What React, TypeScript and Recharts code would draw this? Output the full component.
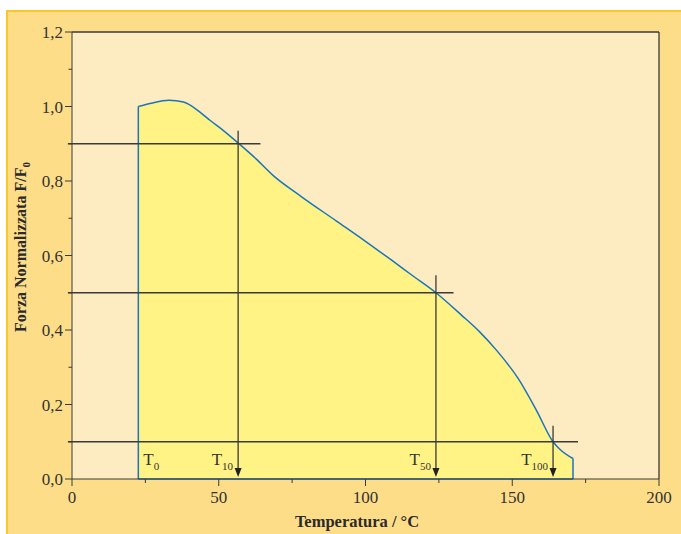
import React from 'react';
import {
  ComposedChart,
  Area,
  XAxis,
  YAxis,
  CartesianGrid,
  ReferenceLine,
  ReferenceDot
} from 'recharts';

// curve (temperature in °C, normalised force F/F0)
const temps = [
  22.6, 27, 33, 38, 43.6, 47, 51.5, 56.6, 62.9, 68.5, 78, 90, 100, 108.8,
  116.2, 124, 132.7, 138.9, 144.6, 152, 158.2, 163.9, 166.2, 170.7
];
const force = [
  1.0, 1.009, 1.017, 1.012, 0.985, 0.963, 0.936, 0.902, 0.858, 0.815, 0.759,
  0.693, 0.638, 0.588, 0.545, 0.5, 0.44, 0.395, 0.346, 0.27, 0.185, 0.1, 0.08,
  0.055
];

const xTicks = [0, 25, 50, 75, 100, 125, 150, 175, 200];
const yTicks = [0, 0.1, 0.2, 0.3, 0.4, 0.5, 0.6, 0.7, 0.8, 0.9, 1.0, 1.1, 1.2];

// T10 / T50 / T100 markers
const levels = [0.9, 0.5, 0.1];
const levelTemps = [56.6, 124, 163.9];
const levelLineEnds = [64.2, 130, 172.4];
const arrowTops = [0.935, 0.547, 0.143];
const markerNames = ['T', 'T', 'T', 'T'];
const markerSubs = ['0', '10', '50', '100'];
const markerTemps = [22.6, 56.6, 124, 163.9];

const data = temps.map((t, i) => ({ t, f: force[i] }));

const FONT = '"Liberation Serif", "Times New Roman", serif';
const INK = '#3a3a3a';
const BLUE = '#1b75bb';

const YTick = (props: any) => {
  const { x, y, payload } = props;
  const v = payload.value;
  const major = Math.round(v * 10) % 2 === 0;
  return (
    <g>
      <line x1={x - (major ? 7 : 3.5)} x2={x} y1={y} y2={y} stroke={INK} />
      {major && (
        <text x={x - 9} y={y} dy={6} textAnchor="end" fontSize={17} fontFamily={FONT} fill="#333">
          {v.toFixed(1).replace('.', ',')}
        </text>
      )}
    </g>
  );
};

const XTick = (props: any) => {
  const { x, y, payload } = props;
  const v = payload.value;
  const major = v % 50 === 0;
  return (
    <g>
      <line x1={x} x2={x} y1={y} y2={y + (major ? 7 : 4)} stroke={INK} />
      {major && (
        <text x={x} y={y + 24} textAnchor="middle" fontSize={17} fontFamily={FONT} fill="#333">
          {v}
        </text>
      )}
    </g>
  );
};

const Arrow = (props: any) => {
  const { x1, y1, x2, y2 } = props;
  return (
    <g>
      <line x1={x1} y1={y1} x2={x2} y2={y2 - 8} stroke={INK} strokeWidth={1.3} />
      <polygon points={`${x2},${y2 - 2} ${x2 - 3.5},${y2 - 11} ${x2 + 3.5},${y2 - 11}`} fill="#222" />
    </g>
  );
};

const makeMarker = (i: number) => (props: any) => {
  const { cx, cy } = props;
  const first = i === 0;
  return (
    <text
      x={first ? cx + 5 : cx - 5}
      y={cy - 14}
      textAnchor={first ? 'start' : 'end'}
      fontSize={17}
      fontFamily={FONT}
      fill="#333"
    >
      {markerNames[i]}
      <tspan dy={5} fontSize={11}>
        {markerSubs[i]}
      </tspan>
    </text>
  );
};

export default function App() {
  const last = temps.length - 1;
  return (
    <div style={{ position: 'absolute', left: 0, top: 0, width: 681, height: 534, background: '#fff', overflow: 'hidden' }}>
      <div
        style={{
          position: 'absolute',
          left: 6,
          top: 10,
          width: 675,
          height: 524,
          background: '#fedd88',
          borderTop: '2px solid #fcc52a',
          borderLeft: '2px solid #fcc52a',
          boxSizing: 'border-box'
        }}
      />
      <div style={{ position: 'absolute', left: 0, top: 0 }}>
        <ComposedChart
          width={681}
          height={534}
          data={data}
          margin={{ top: 32, right: 22, bottom: 25, left: 12 }}
        >
          <CartesianGrid horizontal={false} vertical={false} fill="#fdebc2" stroke="none" />
          <XAxis
            dataKey="t"
            type="number"
            domain={[0, 200]}
            ticks={xTicks}
            interval={0}
            height={30}
            tickSize={0}
            tickMargin={0}
            tick={<XTick />}
            stroke={INK}
            allowDataOverflow
          />
          <YAxis
            type="number"
            domain={[0, 1.2]}
            ticks={yTicks}
            interval={0}
            width={60}
            tickSize={0}
            tickMargin={0}
            tick={<YTick />}
            stroke={INK}
            allowDataOverflow
          />
          <ReferenceLine y={1.2} stroke={INK} strokeWidth={1.3} />
          <ReferenceLine x={200} stroke={INK} strokeWidth={1.3} />
          <Area
            dataKey="f"
            type="monotone"
            stroke={BLUE}
            strokeWidth={1.5}
            fill="#fff385"
            fillOpacity={1}
            baseValue={0}
            isAnimationActive={false}
            dot={false}
            activeDot={false}
          />
          <ReferenceLine
            segment={[{ x: temps[0], y: 0 }, { x: temps[0], y: force[0] }]}
            stroke={BLUE}
            strokeWidth={1.5}
          />
          <ReferenceLine
            segment={[{ x: temps[last], y: 0 }, { x: temps[last], y: force[last] }]}
            stroke={BLUE}
            strokeWidth={1.5}
          />
          <ReferenceLine
            segment={[{ x: temps[0], y: 0 }, { x: temps[last], y: 0 }]}
            stroke={BLUE}
            strokeWidth={1.5}
          />
          {levels.map((lv, i) => (
            <ReferenceLine
              key={'h' + i}
              segment={[{ x: -1.4, y: lv }, { x: levelLineEnds[i], y: lv }]}
              stroke={INK}
              strokeWidth={1.3}
              ifOverflow="visible"
            />
          ))}
          {levelTemps.map((t, i) => (
            <ReferenceLine
              key={'v' + i}
              segment={[{ x: t, y: arrowTops[i] }, { x: t, y: 0 }]}
              shape={<Arrow />}
            />
          ))}
          {markerTemps.map((t, i) => (
            <ReferenceDot key={'m' + i} x={t} y={0} r={0} shape={makeMarker(i)} />
          ))}
        </ComposedChart>
      </div>
      <svg width={681} height={534} style={{ position: 'absolute', left: 0, top: 0, pointerEvents: 'none' }}>
        <text x={357} y={527} textAnchor="middle" fontSize={16.5} fontWeight="bold" fontFamily={FONT} fill="#2a2a2a">
          Temperatura / °C
        </text>
        <text
          transform="translate(26, 247) rotate(-90)"
          textAnchor="middle"
          fontSize={16}
          fontWeight="bold"
          fontFamily={FONT}
          fill="#2a2a2a"
        >
          Forza Normalizzata F/F
          <tspan dy={4} fontSize={11}>
            0
          </tspan>
        </text>
      </svg>
    </div>
  );
}
